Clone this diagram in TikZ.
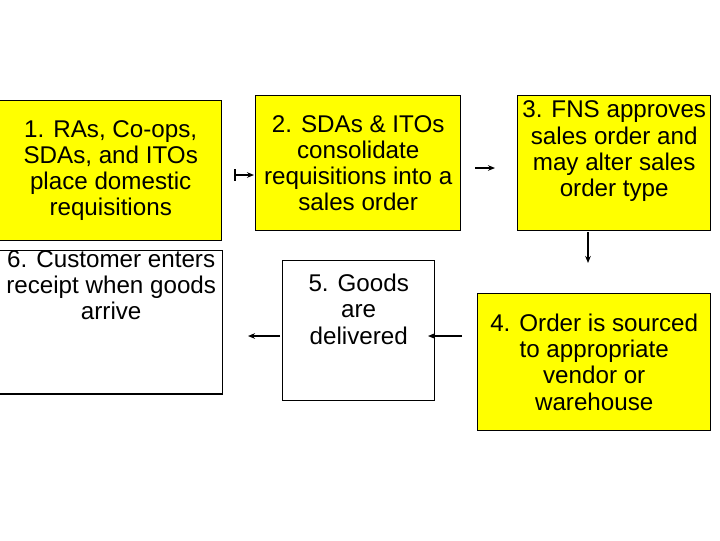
\documentclass[tikz,border=0pt]{standalone}
\usepackage{fontspec}
\usetikzlibrary{arrows.meta}
\setmainfont{Liberation Sans}
\definecolor{boxyellow}{RGB}{255,255,0}
\begin{document}
\begin{tikzpicture}[x=0.025cm,y=-0.025cm,
  box/.style={draw=black,line width=1pt,inner sep=0pt,align=center,
    font=\fontsize{17.2}{18.6}\selectfont},
  arr/.style={-{Stealth[length=5pt,width=4pt]},line width=1pt}]
\useasboundingbox (0,0) rectangle (720,540);
\node[box,fill=boxyellow,minimum width={222*0.025cm},minimum height={140*0.025cm},anchor=north west] (b1) at (-1,100)
  {1. RAs, Co-ops,\\SDAs, and ITOs\\place domestic\\requisitions};
\node[box,fill=boxyellow,minimum width={205*0.025cm},minimum height={135*0.025cm},anchor=north west] (b2) at (255,95)
  {2. SDAs \& ITOs\\consolidate\\requisitions into a\\sales order};
\node[box,fill=boxyellow,minimum width={193*0.025cm},minimum height={135*0.025cm},anchor=north west] (b3) at (517,95)
  {3. FNS approves\\sales order and\\may alter sales\\order type\\[2pt]};
\node[box,fill=white,minimum width={223*0.025cm},minimum height={138*0.025cm},anchor=north west] (b6) at (-1,250)
  {6. Customer enters\\receipt when goods\\arrive\\[34pt]};
\node[box,fill=white,minimum width={152*0.025cm},minimum height={140*0.025cm},anchor=north west] (b5) at (282,260)
  {5. Goods\\are\\delivered\\[12pt]};
\node[box,fill=boxyellow,minimum width={233*0.025cm},minimum height={137*0.025cm},anchor=north west] (b4) at (477,293)
  {4. Order is sourced\\to appropriate\\vendor or\\warehouse};
\coordinate (a1s) at (235,175); \coordinate (a1e) at (254,175);
\coordinate (a2s) at (475,168); \coordinate (a2e) at (495,168);
\coordinate (a3s) at (588,232); \coordinate (a3e) at (588,263);
\coordinate (a4s) at (462,336); \coordinate (a4e) at (428,336);
\coordinate (a5s) at (280,336); \coordinate (a5e) at (248,336);
\draw[arr] (a1s) -- (a1e);
\draw[line width=1pt] ([yshift=-4pt]a1s) -- ([yshift=4pt]a1s);
\draw[arr] (a2s) -- (a2e);
\draw[arr] (a3s) -- (a3e);
\draw[arr] (a4s) -- (a4e);
\draw[arr] (a5s) -- (a5e);
\end{tikzpicture}
\end{document}
